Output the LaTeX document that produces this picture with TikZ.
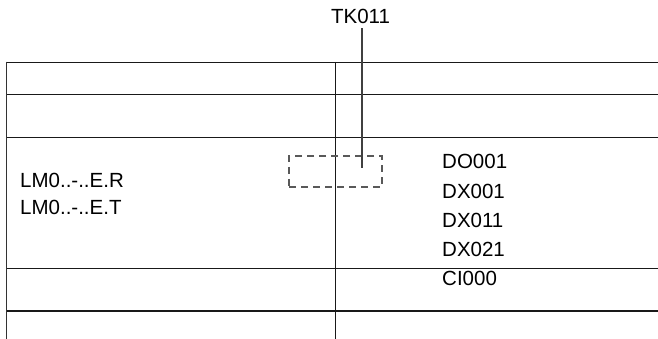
\documentclass[tikz,border=0pt]{standalone}
\usepackage{fontspec}
\setmainfont{Liberation Sans}
\begin{document}
\begin{tikzpicture}[x=1pt,y=-1pt,
  txt/.style={inner sep=0pt,font=\fontsize{20.5}{24}\selectfont},
  lbl/.style={txt,anchor=base west},
  rule/.style={line width=1.2pt,draw=black!90},
  edge/.style={line width=1.8pt,draw=black!80},
  dashbox/.style={draw=black!65,line width=1.1pt,dash pattern=on 7pt off 5pt}]
\useasboundingbox (0,0) rectangle (658,339);
% horizontal rules
\foreach \yy in {62.5,94.5,137.3,268.3,311} \draw[rule] (6,\yy) -- (658,\yy);
% verticals
\draw[edge] (6.5,61.7) -- (6.5,339);
\draw[rule] (335.5,62) -- (335.5,339);
% dashed box
\node[dashbox,minimum width=93pt,minimum height=31pt,inner sep=0pt] (box) at (335.5,171.5) {};
% label and leader
\node[txt,anchor=base] (tk) at (360.5,24) {TK011};
\coordinate (tkend) at (362,168);
\draw[line width=1.1pt,draw=black!75] (362,28.5) -- (tkend);
% left texts
\node[lbl] (r) at (20,187.3) {LM0..-..E.R};
\node[lbl] (t) at (20,214.3) {LM0..-..E.T};
% right texts
\node[lbl] (d1) at (442,169) {DO001};
\node[lbl] (d2) at (442,198.3) {DX001};
\node[lbl] (d3) at (442,227.5) {DX011};
\node[lbl] (d4) at (442,256.7) {DX021};
\node[lbl] (c1) at (442,285.5) {CI000};
\end{tikzpicture}
\end{document}
